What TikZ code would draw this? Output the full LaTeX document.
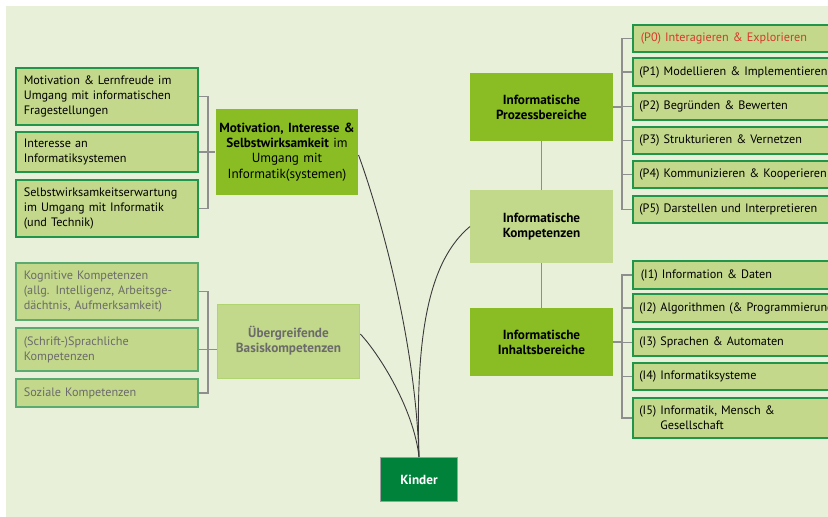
\documentclass[tikz,border=0pt]{standalone}
\usepackage{fontspec}
\setmainfont[WordSpace=0.72]{PT Sans}
\definecolor{bg}{HTML}{E9F0DA}
\definecolor{leaf}{HTML}{C3D88B}
\definecolor{leafedge}{HTML}{21964A}
\definecolor{hub}{HTML}{8ABD24}
\definecolor{soft}{HTML}{C2D88A}
\definecolor{softedge}{HTML}{5BAA6F}
\definecolor{softrim}{HTML}{B0D46E}
\definecolor{kid}{HTML}{00823A}
\definecolor{redtxt}{HTML}{D9382C}
\definecolor{graytxt}{HTML}{6B6B6B}
\definecolor{brk}{HTML}{8E8E8E}
\definecolor{curve}{HTML}{3A3A3A}
\tikzset{
  base/.style={font=\fontsize{12.2}{15}\selectfont, inner ysep=0pt},
  big/.style={font=\fontsize{13.2}{15.2}\selectfont, inner ysep=0pt},
  leafbox/.style={base, draw=leafedge, line width=1.6pt, fill=leaf,
    inner xsep=8pt, text width=166pt, align=left, anchor=west},
  fadedbox/.style={leafbox, draw=softedge, text=graytxt},
  itembox/.style={base, draw=leafedge, line width=1.6pt, fill=leaf,
    inner xsep=6.5pt, text width=220pt, align=left, anchor=west, minimum height=27.5pt},
  hubbox/.style={big, fill=hub, align=center, text width=136pt, minimum width=141pt},
  softbox/.style={big, fill=soft, align=center, text width=136pt, minimum width=141pt},
  brk/.style={draw=brk, line width=1.4pt},
  link/.style={draw=curve, line width=0.9pt},
}
\begin{document}
\begin{tikzpicture}[x=1pt, y=-1pt]
\clip (0,0) rectangle (828,517);
\fill[white] (0,0) rectangle (828,517);
\fill[bg] (6,6) rectangle (840,530);

% left branch: motivation
\node[leafbox, minimum height=57pt] (L1) at (15,96.5)
  {Motivation \& Lernfreude im\\Umgang mit informatischen\\Fragestellungen};
\node[leafbox, minimum height=40pt] (L2) at (15,152)
  {Interesse an\\Informatiksystemen};
\node[leafbox, minimum height=57pt] (L3) at (15,208.5)
  {Selbstwirksamkeitserwartung\\im Umgang mit Informatik\\(und Technik)};
\node[hubbox, minimum height=86pt] (mot) at (287,152)
  {\textbf{Motivation, Interesse \&}\\\textbf{Selbstwirksamkeit} im\\Umgang mit\\Informatik(systemen)};

% left branch: basic competences
\node[fadedbox, minimum height=57pt] (L4) at (15,291.5)
  {Kognitive Kompetenzen\\(allg. Intelligenz, Arbeitsge-\\dächtnis, Aufmerksamkeit)};
\node[fadedbox, minimum height=43pt] (L5) at (15,349.5)
  {(Schrift-)Sprachliche\\Kompetenzen};
\node[fadedbox, minimum height=28pt] (L6) at (15,393)
  {Soziale Kompetenzen};
\node[softbox, draw=softrim, line width=1pt, text=graytxt, minimum height=74pt] (ueb) at (288.5,341)
  {\textbf{Übergreifende}\\\textbf{Basiskompetenzen}};

% right branch
\node[hubbox, minimum height=68pt] (proz) at (541.5,107)
  {\textbf{Informatische}\\\textbf{Prozessbereiche}};
\node[softbox, minimum height=73pt] (komp) at (541.5,226.5)
  {\textbf{Informatische}\\\textbf{Kompetenzen}};
\node[hubbox, minimum height=68pt] (inh) at (541.5,342)
  {\textbf{Informatische}\\\textbf{Inhaltsbereiche}};

\node[itembox, text=redtxt] (P0) at (632,38.5) {\hspace{1.5pt}(P0) Interagieren \& Explorieren};
\node[itembox] (P1) at (632,72) {(P1) Modellieren \& Implementieren};
\node[itembox] (P2) at (632,106.5) {(P2) Begründen \& Bewerten};
\node[itembox] (P3) at (632,140.5) {(P3) Strukturieren \& Vernetzen};
\node[itembox] (P4) at (632,174.5) {(P4) Kommunizieren \& Kooperieren};
\node[itembox] (P5) at (632,209.5) {(P5) Darstellen und Interpretieren};

\node[itembox] (I1) at (632,275) {\hspace{1.5pt}(I1) Information \& Daten};
\node[itembox] (I2) at (632,308) {(I2) Algorithmen (\& Programmierung)};
\node[itembox] (I3) at (632,342.5) {(I3) Sprachen \& Automaten};
\node[itembox] (I4) at (632,376.5) {(I4) Informatiksysteme};
\node[itembox, minimum height=40pt] (I5) at (632,418)
  {(I5) Informatik, Mensch \&\\\hphantom{(I5) }Gesellschaft};

% root
\node[big, draw=gray!75, line width=1pt, fill=kid, text=white, font=\fontsize{13.2}{15}\selectfont\bfseries,
  minimum width=77pt, minimum height=44pt] (kin) at (419,479.5) {Kinder};

% bracket columns
\coordinate (kL) at (208,0);
\coordinate (kR) at (622,0);

\draw[brk] (L1.east) -- (L1.east -| kL) -- (L3.east -| kL) -- (L3.east);
\draw[brk] (L2.east) -- (mot.west);
\draw[brk] (L4.east) -- (L4.east -| kL) -- (L6.east -| kL) -- (L6.east);
\draw[brk] (L5.east) -- (L5.east -| ueb.west);

\draw[brk] (P0.west) -- (P0.west -| kR) -- (P5.west -| kR) -- (P5.west);
\foreach \n in {P1,P2,P3,P4} \draw[brk] (\n.west) -- (\n.west -| kR);
\draw[brk] (proz.east) -- (proz.east -| kR);

\draw[brk] (I1.west) -- (I1.west -| kR) -- (I5.west -| kR) -- (I5.west);
\foreach \n in {I2,I3,I4} \draw[brk] (\n.west) -- (\n.west -| kR);
\draw[brk] (inh.east) -- (inh.east -| kR);

\draw[brk] (proz.south) -- (komp.north);
\draw[brk] (komp.south) -- (inh.north);

% curved links into the root
\draw[link] (kin.north) .. controls (415,330) and (375,200) .. ([yshift=-3pt]mot.east);
\draw[link] (kin.north) .. controls (414,410) and (380,355) .. ([yshift=7pt]ueb.east);
\draw[link] (kin.north) .. controls (415,330) and (430,260) .. (komp.west);
\end{tikzpicture}
\end{document}
